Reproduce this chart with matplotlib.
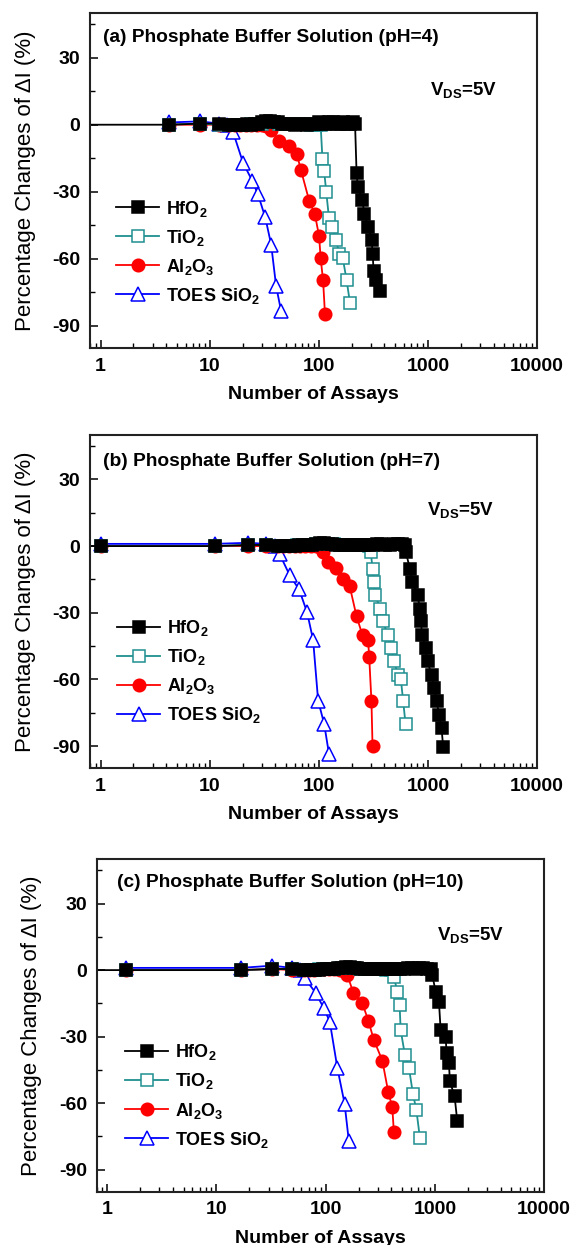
import matplotlib
matplotlib.use('Agg')
import matplotlib.pyplot as plt

plt.rcParams['font.family'] = ['Liberation Sans', 'DejaVu Sans']
plt.rcParams['mathtext.fontset'] = 'custom'
plt.rcParams['mathtext.rm'] = 'Liberation Sans:bold'
plt.rcParams['mathtext.bf'] = 'Liberation Sans:bold'
plt.rcParams['mathtext.it'] = 'Liberation Sans:bold'
plt.rcParams['axes.unicode_minus'] = False

# ---------------- data ----------------
labels = ['HfO$_2$', 'TiO$_2$', 'Al$_2$O$_3$', 'TOES SiO$_2$']
titles = ['(a) Phosphate Buffer Solution (pH=4)',
          '(b) Phosphate Buffer Solution (pH=7)',
          '(c) Phosphate Buffer Solution (pH=10)']
x_ticks = [1, 10, 100, 1000, 10000]
y_ticks = [-90, -60, -30, 0, 30]
y_minor = [-75, -45, -15, 15, 45]

# (a) pH=4
a_hfo2_x = [0.6, 4.2, 8.2, 12.2, 15, 16.5, 18, 20, 22, 24, 26, 28, 30, 33, 36, 39, 42, 46, 50, 55,
            60, 66, 72, 78, 85, 92, 100, 108, 116, 125, 135, 145, 156, 168, 180, 193, 207, 215,
            222, 228, 250, 262, 283, 305, 312, 318, 337, 366]
a_hfo2_y = [0, 0, 0.5, 0.5, 0, 0, 0, 0, 0.5, 0, 0.5, 0.5, 1, 1.5, 1.5, 1, 1, 0.5, 0.5, 0.5,
            0, 0.5, 0.5, 0, 0.5, 0.5, 1, 0.5, 0.5, 1, 1, 0.5, 0.5, 1, 0.5, 0.5, 1, 0.5,
            -21.5, -27.7, -33.8, -39.8, -45.7, -51.5, -57.9, -65.6, -69.7, -74.6]
a_tio2_x = [4.2, 8.2, 12.2, 15, 17, 19, 21, 24, 27, 30, 34, 38, 43, 48, 54, 60, 67, 75, 84, 94, 104,
            108, 112, 117, 124, 131, 145, 153, 166, 180, 193]
a_tio2_y = [0, 0.5, 0, 0, 0, 0, 0, 0.5, 0.5, 0.5, 1, 1, 0.5, 0.5, 0.5, 0.5, 0.5, 0.5, 0, 0, 0,
            -15.3, -20.8, -30, -41.8, -46, -51.6, -57.9, -59.8, -69.7, -79.7]
a_al2o3_x = [4.2, 8.2, 12.2, 15, 17, 19, 21.5, 24, 27, 30, 33,
             36.6, 43.6, 53.7, 62.7, 68.6, 81.7, 92, 100.7, 104, 109.5, 114]
a_al2o3_y = [0, 0, 0, 0, 0, 0, 0, 0, 0, 0, -0.5,
             -2.5, -7.4, -9.6, -12.9, -20.3, -34.1, -40, -50, -59.8, -69.7, -85]
a_sio2_x = [4.2, 8.2, 12.2, 14.5, 16.4, 20.2, 24.6, 27.7, 32.3, 36.6, 40.6, 45.1]
a_sio2_y = [1, 1.5, 0.5, 0, -3.4, -17, -25.2, -31.2, -41.5, -53.7, -72.2, -83.4]

# (b) pH=7
b_hfo2_x = [0.6, 1, 11.1, 22.5, 33, 42, 46, 50, 55, 60, 66, 72, 79, 86, 94, 103, 112, 122, 133,
            145, 158, 172, 188, 205, 223, 243, 265, 289, 315, 343, 374, 408, 445, 485, 528, 575, 615,
            629, 684, 723, 804, 845, 862, 887, 952, 993, 1081, 1143, 1202, 1270, 1334, 1381]
b_hfo2_y = [0, 0, 0, 0.5, 0.5, 0, 0, 0, 0, 0, 0.5, 0.5, 0.5, 0.5, 1, 1.5, 1.5, 1, 1,
            0.5, 0.5, 0.5, 0.5, 0.5, 0.5, 0.5, 0.5, 0.5, 0.5, 1, 1, 0.5, 0.5, 1, 1, 1, 0.5,
            -2.7, -10.2, -16.2, -21.9, -28.2, -33.9, -39.9, -45.9, -51.9, -57.9, -63.9, -69.9,
            -75.9, -81.9, -90.2]
b_tio2_x = [1, 11.1, 22.5, 33, 42, 48, 55, 63, 72, 82, 94, 107, 122, 139, 158, 180, 205, 233, 265, 290,
            300, 311, 320, 331, 363, 389, 427, 464, 491, 534, 565, 594, 624]
b_tio2_y = [0, 0, 0.5, 0.5, 0, 0, 0, 0.5, 0.5, 0.5, 1, 1, 1, 1, 0.5, 0.5, 0.5, 0.5, 0.5, 0,
            -2.7, -10.2, -16.2, -21.9, -28.2, -33.9, -39.9, -45.9, -51.9, -57.9, -59.7, -69.9, -80]
b_al2o3_x = [1, 11.1, 22.5, 33, 42, 47, 53, 60, 67, 75, 84, 94, 102,
             110, 122, 145, 167, 192, 222, 252, 283, 290, 304, 311]
b_al2o3_y = [0, 0, 0, 0, 0, 0, 0, 0, 0, 0, 0, 0, -0.5,
             -2.7, -7.2, -9.75, -14.7, -18, -31.65, -40.2, -42.2, -50, -69.9, -89.9]
b_sio2_x = [1, 11.1, 22.5, 33, 40, 43.9, 54.2, 66, 78, 88.7, 98.6, 112, 124]
b_sio2_y = [1, 1, 1.5, 1, 0, -3.75, -13.2, -19.5, -29.7, -42.2, -69.5, -80, -93.5]

# (c) pH=10
c_hfo2_x = [0.6, 1.47, 16.6, 32.4, 49.4, 63, 68, 74, 80, 87, 94, 102, 111, 120, 130, 141, 153, 166,
            180, 195, 212, 230, 250, 271, 294, 319, 346, 375, 407, 442, 480, 520, 565, 613, 665, 722,
            784, 850, 914,
            947, 1016, 1089, 1128, 1253, 1280, 1344, 1372, 1515, 1603]
c_hfo2_y = [0, 0, 0, 0.5, 0.5, 0, 0, 0, 0, 0, 0.5, 0.5, 0.5, 0.5, 1, 1, 1.5, 1.5,
            1, 1, 0.5, 0.5, 0.5, 0.5, 0.5, 0.5, 0.5, 0.5, 0.5, 0.5, 0.5, 0.5, 1, 1, 0.5, 1,
            1, 0.5, 0.5,
            -2.25, -9.75, -14.25, -27, -30, -37.5, -42, -50.25, -57, -68.25]
c_tio2_x = [1.47, 16.6, 32.4, 49.4, 63, 70, 78, 87, 97, 108, 120, 134, 149, 166, 185, 206, 230, 256,
            285, 317, 353, 393, 415,
            421, 453, 475, 486, 531, 578, 629, 676, 729]
c_tio2_y = [0, 0, 0.5, 0.5, 0, 0, 0, 0.5, 0.5, 0.5, 0.5, 1, 1, 1, 1, 0.5, 0.5, 0.5,
            0.5, 0.5, 0, 0, 0,
            -3, -9.75, -15.75, -27, -38.25, -43.95, -55.8, -63, -75.75]
c_al2o3_x = [1.47, 16.6, 32.4, 49.4, 63, 70, 78, 87, 97, 108, 120, 134, 148,
             158, 179, 216, 246, 276, 330, 374, 407, 421]
c_al2o3_y = [0, 0, 0.5, 0, 0, 0, 0, 0.5, 0.5, 0.5, 0.5, 0, -0.5,
             -2.25, -10.2, -14.7, -22.95, -31.5, -40.8, -55.05, -61.8, -73.05]
c_sio2_x = [1.47, 16.6, 32.4, 49.4, 58, 64.5, 80.8, 96.3, 109, 128, 149, 163]
c_sio2_y = [1, 1, 2, 1, 0, -3.75, -10.2, -17.25, -23.25, -44.25, -60.3, -77.25]

panels = [
    [(a_hfo2_x, a_hfo2_y), (a_tio2_x, a_tio2_y), (a_al2o3_x, a_al2o3_y), (a_sio2_x, a_sio2_y)],
    [(b_hfo2_x, b_hfo2_y), (b_tio2_x, b_tio2_y), (b_al2o3_x, b_al2o3_y), (b_sio2_x, b_sio2_y)],
    [(c_hfo2_x, c_hfo2_y), (c_tio2_x, c_tio2_y), (c_al2o3_x, c_al2o3_y), (c_sio2_x, c_sio2_y)],
]

# ---------------- styles ----------------
colors = ['black', '#1f8f8f', '#ff0000', '#0000ff']
markers = ['s', 's', 'o', '^']
faces = ['black', 'white', '#ff0000', 'white']
msizes = [8.5, 8.5, 9, 10.5]

# axes rectangles in figure fraction [left, bottom, width, height]
rects = [[0.158, 0.7205, 0.784, 0.2690],
         [0.158, 0.3829, 0.784, 0.2677],
         [0.1696, 0.0428, 0.785, 0.2670]]
title_pos = [(0.03, 0.928), (0.03, 0.92), (0.045, 0.929)]
vds_pos = [(0.76, 0.77), (0.755, 0.776), (0.76, 0.772)]
leg_pos = [(0.058, 0.446), (0.06, 0.45), (0.063, 0.449)]

fig = plt.figure(figsize=(5.7, 12.45), dpi=100)

for p in range(3):
    ax = fig.add_axes(rects[p])
    handles = [None] * 4
    # draw in reverse so HfO2 ends up on top
    for k in [3, 2, 1, 0]:
        xs, ys = panels[p][k]
        ln, = ax.plot(xs, ys, color=colors[k], lw=1.3, marker=markers[k], ms=msizes[k],
                      mfc=faces[k], mec=colors[k], mew=1.1, label=labels[k])
        handles[k] = ln
    ax.set_xscale('log')
    ax.set_xlim(0.8, 10000)
    ax.set_ylim(-100, 50)
    ax.set_xticks(x_ticks)
    ax.set_xticklabels([str(t) for t in x_ticks])
    ax.set_yticks(y_ticks)
    ax.set_yticks(y_minor, minor=True)
    ax.tick_params(which='both', direction='in', top=False, right=False)
    ax.tick_params(which='major', length=6, width=1.1, labelsize=14, pad=7)
    ax.tick_params(which='minor', length=3.5, width=1.0)
    for lab in ax.get_xticklabels() + ax.get_yticklabels():
        lab.set_fontweight('bold')
    for s in ax.spines.values():
        s.set_linewidth(1.5)
        s.set_color('#222222')

    ax.text(title_pos[p][0], title_pos[p][1], titles[p], transform=ax.transAxes,
            fontsize=13.8, fontweight='bold', va='center', ha='left')
    ax.text(vds_pos[p][0], vds_pos[p][1], 'V$_{DS}$=5V', transform=ax.transAxes,
            fontsize=13.5, fontweight='bold', va='center', ha='left')

    ax.legend(handles, labels, loc='upper left', bbox_to_anchor=leg_pos[p], frameon=False,
              numpoints=1, handlelength=2.4, handletextpad=0.35, labelspacing=0.5,
              borderpad=0, borderaxespad=0, prop={'size': 13, 'weight': 'bold'})

    ax.set_xlabel('Number of Assays', fontsize=14, fontweight='bold', labelpad=8)
    ax.set_ylabel('Percentage Changes of \u0394I (%)', fontsize=16, labelpad=12)

fig.savefig('out.png', dpi=100)
